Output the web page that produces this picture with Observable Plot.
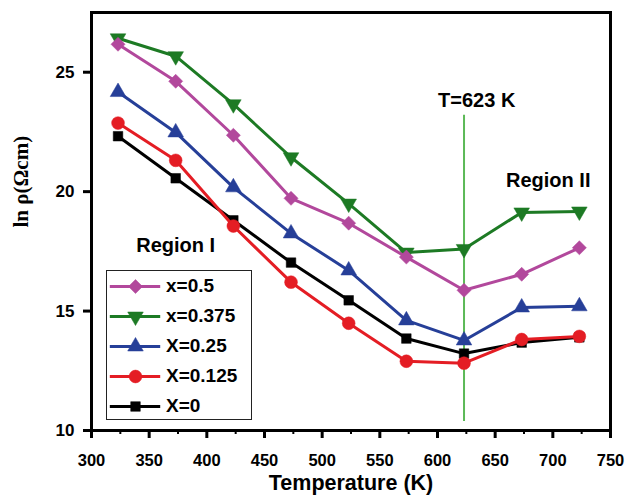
<!DOCTYPE html>
<html>
<head>
<meta charset="utf-8">
<script src="https://cdn.jsdelivr.net/npm/d3@7"></script>
<script src="https://cdn.jsdelivr.net/npm/@observablehq/plot@0.6"></script>
<style>
  html, body { margin: 0; padding: 0; background: #fff; }
  #wrap { position: relative; width: 625px; height: 499px; font-family: "Liberation Sans", Arial, sans-serif; }
  #legend { position: absolute; left: 106px; top: 270px; width: 146px; height: 150px; border: 1px solid #222; background: #fff; box-sizing: border-box; }
  .row { position: absolute; left: 0; height: 30px; display: flex; align-items: center; }
  .row span { font-weight: bold; font-size: 19px; color: #000; margin-left: 3px; }
</style>
</head>
<body>
<div id="wrap"><div id="legend"></div></div>
<script>
const temps = [323, 373, 423, 473, 523, 573, 623, 673, 723];
const x05   = [26.17, 24.62, 22.36, 19.72, 18.68, 17.26, 15.87, 16.54, 17.65];
const x0375 = [26.42, 25.67, 23.66, 21.44, 19.50, 17.45, 17.60, 19.13, 19.17];
const x025  = [24.17, 22.48, 20.18, 18.25, 16.70, 14.61, 13.77, 15.15, 15.20];
const x0125 = [22.87, 21.31, 18.56, 16.21, 14.49, 12.90, 12.82, 13.81, 13.94];
const x0    = [22.32, 20.56, 18.80, 17.03, 15.45, 13.85, 13.22, 13.68, 13.90];

const seriesNames = ["x=0.5", "x=0.375", "X=0.25", "X=0.125", "X=0"];
const seriesValues = [x05, x0375, x025, x0125, x0];
const seriesColors = ["#b2489c", "#1d7a24", "#263f98", "#e41d24", "#000000"];
const seriesSymbols = ["square", "triangle", "triangle", "circle", "square"];
const seriesRotate = [45, 180, 0, 0, 0];
const seriesR = [5.6, 5.8, 5.8, 6.4, 5.4];

const xTicks = [300, 350, 400, 450, 500, 550, 600, 650, 700, 750];
const xMinor = [325, 375, 425, 475, 525, 575, 625, 675, 725];
const yTicks = [10, 15, 20, 25];

const transitionT = 623;
const transitionSpan = [10.38, 23.2];
const notes = [
  {x: 634, y: 23.8, text: "T=623 K"},
  {x: 696, y: 20.45, text: "Region II"},
  {x: 373, y: 17.75, text: "Region I"}
];

const drawOrder = [4, 3, 2, 1, 0];
const marks = [];
marks.push(Plot.ruleX([transitionT], {y1: transitionSpan[0], y2: transitionSpan[1], stroke: "#5cb957", strokeWidth: 2}));
for (const i of drawOrder) {
  const data = temps.map((t, j) => ({t, v: seriesValues[i][j]}));
  marks.push(Plot.line(data, {x: "t", y: "v", stroke: seriesColors[i], strokeWidth: 3}));
  marks.push(Plot.dot(data, {x: "t", y: "v", symbol: seriesSymbols[i], fill: seriesColors[i], r: seriesR[i], rotate: seriesRotate[i], stroke: seriesColors[i], strokeWidth: 0.5}));
}
marks.push(Plot.text(notes, {x: "x", y: "y", text: "text", fontSize: 20, fontWeight: "bold", fill: "#000", textAnchor: "middle"}));
marks.push(Plot.axisX({ticks: xTicks, tickSize: 8, tickPadding: 16, strokeWidth: 3, fontSize: 16.5, fontWeight: "bold", fill: "#000", label: null}));
marks.push(Plot.axisX({ticks: xMinor, tickSize: 4, strokeWidth: 2, text: null, label: null}));
marks.push(Plot.axisY({ticks: yTicks, tickSize: 8, tickPadding: 9, strokeWidth: 3, fontSize: 17, fontWeight: "bold", fill: "#000", label: null}));
marks.push(Plot.frame({stroke: "#000", strokeWidth: 3}));
marks.push(Plot.text(["Temperature (K)"], {frameAnchor: "bottom", dy: 59, fontSize: 21.5, fontWeight: "bold", fill: "#000"}));
marks.push(Plot.text(["ln ρ(Ωcm)"], {frameAnchor: "left", rotate: -90, dx: -70, dy: 6, fontSize: 21, fontWeight: "bold", fontFamily: "Liberation Serif, Times New Roman, serif", fill: "#000"}));

const chart = Plot.plot({
  width: 625,
  height: 499,
  marginLeft: 91,
  marginRight: 15,
  marginTop: 12,
  marginBottom: 69,
  style: {fontFamily: "Liberation Sans, Arial, sans-serif", background: "#fff", color: "#000"},
  x: {domain: [300, 750]},
  y: {domain: [10, 27.5]},
  marks
});
const wrap = document.getElementById("wrap");
wrap.insertBefore(chart, wrap.firstChild);
chart.style.position = "absolute";
chart.style.left = "0";
chart.style.top = "0";

// legend
const legend = document.getElementById("legend");
seriesNames.forEach((name, i) => {
  const row = document.createElement("div");
  row.className = "row";
  row.style.top = (i * 30) + "px";
  const sw = Plot.plot({
    width: 56, height: 30, margin: 0,
    x: {domain: [0, 1], axis: null}, y: {domain: [0, 1], axis: null},
    marks: [
      Plot.ruleY([0.5], {x1: 0.05, x2: 0.95, stroke: seriesColors[i], strokeWidth: 3}),
      Plot.dot([0.5], {x: 0.5, y: 0.5, symbol: seriesSymbols[i], fill: seriesColors[i], stroke: seriesColors[i], strokeWidth: 0.5, r: seriesR[i], rotate: seriesRotate[i]})
    ]
  });
  sw.style.display = "block";
  row.appendChild(sw);
  const label = document.createElement("span");
  label.textContent = name;
  row.appendChild(label);
  legend.appendChild(row);
});
</script>
</body>
</html>
